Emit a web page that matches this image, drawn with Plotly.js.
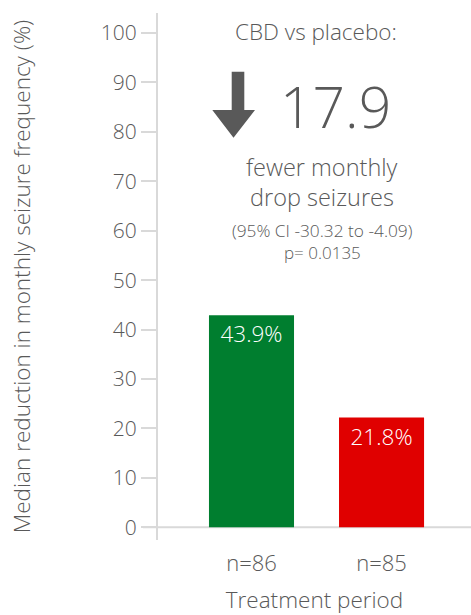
<!DOCTYPE html>
<html>
<head>
<meta charset="utf-8">
<script src="https://cdn.plot.ly/plotly-3.0.1.min.js"></script>
<style>html,body{margin:0;padding:0;background:#fff;}#chart{width:471px;height:615px;}</style>
</head>
<body>
<div id="chart"></div>
<script>
// Data
const categories = ["n=86", "n=85"];
const values = [42.9, 22.2];
const valueLabels = ["43.9%", "21.8%"];
const barColors = ["#007e2f", "#e00000"];
const yTicks = [0, 10, 20, 30, 40, 50, 60, 70, 80, 90, 100];

const W = 471, H = 615;
const L = 158, R = 0, T = 13, B = 75;
const pw = W - L - R, ph = H - T - B;
const px = x => (x - L) / pw;
const py = y => (H - B - y) / ph;
const gray = "#595959";
const FONT = "Open Sans, sans-serif";
const WT = 300;

const trace = {
  type: "bar",
  x: categories,
  y: values,
  text: valueLabels,
  textposition: "inside",
  insidetextanchor: "end",
  constraintext: "none",
  textangle: 0,
  textfont: {color: "#ffffff", size: 22.5, family: FONT, weight: WT},
  marker: {color: barColors},
  width: 0.654,
  hoverinfo: "none"
};

const arrowPath = (() => {
  const pts = [[231.7,71.7],[244.3,71.7],[244.3,110],[255,110],[233.5,137.7],[212.3,110],[231.7,110]];
  return "M " + pts.map(p => px(p[0]) + "," + py(p[1])).join(" L ") + " Z";
})();

const layout = {
  width: W, height: H,
  margin: {l: L, r: R, t: T, b: B, pad: 0},
  paper_bgcolor: "#ffffff",
  plot_bgcolor: "#ffffff",
  showlegend: false,
  font: {family: FONT, color: gray, weight: WT},
  xaxis: {
    type: "category",
    range: [-0.719, 1.688],
    showgrid: false, zeroline: false, showline: false,
    ticks: "outside", ticklen: 4, tickcolor: "rgba(0,0,0,0)",
    tickfont: {size: 22, color: gray, family: FONT, weight: WT},
    title: {text: "Treatment period", font: {size: 22.5, color: gray, family: FONT, weight: WT}, standoff: 26},
    fixedrange: true
  },
  yaxis: {
    range: [-2.57, 104.05],
    tickvals: yTicks,
    ticktext: yTicks.map(String),
    showgrid: false, zeroline: false,
    showline: true, linecolor: "#d9d9d9", linewidth: 2,
    ticks: "outside", ticklen: 15, tickcolor: "#d9d9d9", tickwidth: 2,
    tickfont: {size: 21, color: gray, family: FONT, weight: WT},
    title: {text: "Median reduction in monthly seizure frequency (%)", font: {size: 22.5, color: gray, family: FONT, weight: WT}, standoff: 64},
    fixedrange: true
  },
  shapes: [
    {type: "line", xref: "paper", yref: "y", x0: px(143), x1: 1, y0: 0, y1: 0, line: {color: "#d9d9d9", width: 2}, layer: "below"},
    {type: "path", xref: "paper", yref: "paper", path: arrowPath, fillcolor: gray, line: {width: 0}}
  ],
  annotations: [
    {text: "CBD vs placebo:", x: px(316), y: py(32), size: 22.5},
    {text: "17.9", x: px(335), y: py(106), size: 57},
    {text: "fewer monthly", x: px(322), y: py(167), size: 23.5},
    {text: "drop seizures", x: px(322), y: py(197), size: 23.5},
    {text: "(95% CI -30.32 to -4.09)", x: px(322), y: py(230), size: 17.3},
    {text: "p= 0.0135", x: px(322), y: py(252), size: 17}
  ].map(a => ({text: a.text, x: a.x, y: a.y, xref: "paper", yref: "paper", xanchor: "center", yanchor: "middle", showarrow: false, font: {size: a.size, color: gray, family: FONT, weight: WT}}))
};

Plotly.newPlot("chart", [trace], layout, {displayModeBar: false, staticPlot: true});
</script>
</body>
</html>
